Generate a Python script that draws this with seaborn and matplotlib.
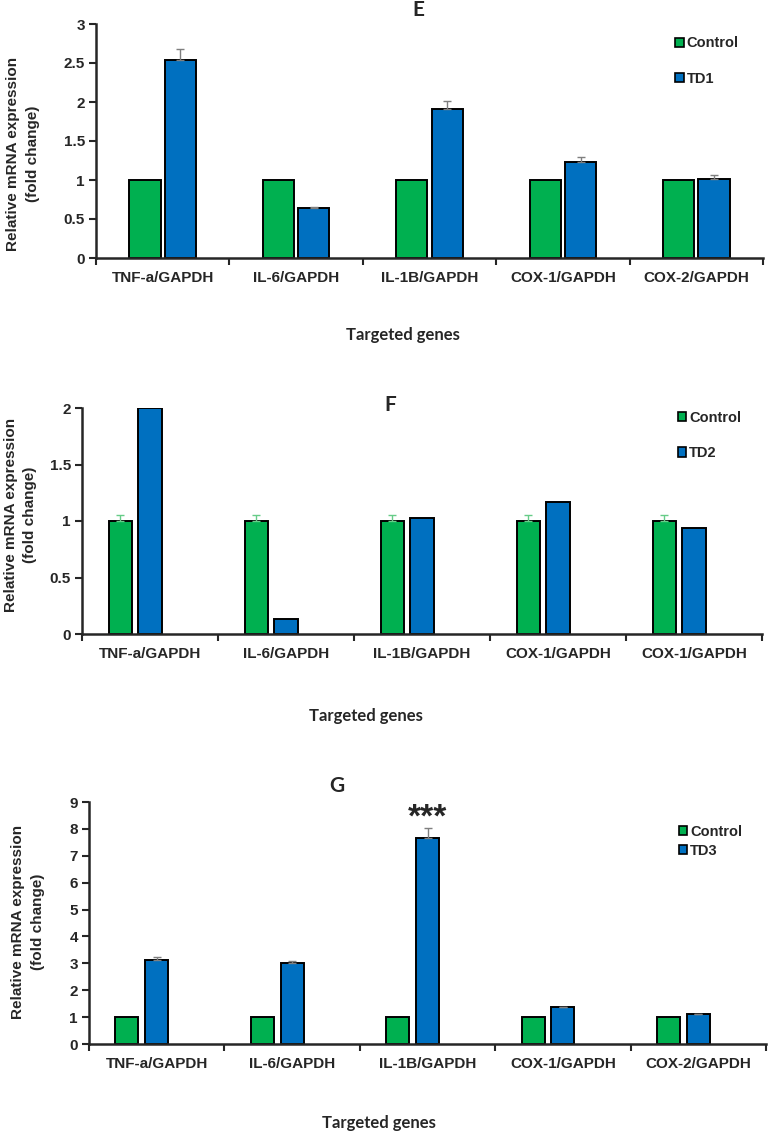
import numpy as np
import pandas as pd
import matplotlib
matplotlib.use("Agg")
import matplotlib.pyplot as plt
import seaborn as sns
from matplotlib.patches import Patch
from matplotlib.ticker import FuncFormatter

# =========================
# DATA
# =========================
genes_e = ["TNF-a/GAPDH", "IL-6/GAPDH", "IL-1B/GAPDH", "COX-1/GAPDH", "COX-2/GAPDH"]
control_e = [1, 1, 1, 1, 1]
td1 = [2.54, 0.64, 1.91, 1.23, 1.01]
td1_err = [0.14, 0.02, 0.10, 0.07, 0.05]

genes_f = ["TNF-a/GAPDH", "IL-6/GAPDH", "IL-1B/GAPDH", "COX-1/GAPDH", "COX-1/GAPDH"]
control_f = [1, 1, 1, 1, 1]
control_f_err = [0.05, 0.05, 0.05, 0.05, 0.05]
td2 = [2.0, 0.13, 1.03, 1.17, 0.94]

genes_g = ["TNF-a/GAPDH", "IL-6/GAPDH", "IL-1B/GAPDH", "COX-1/GAPDH", "COX-2/GAPDH"]
control_g = [1, 1, 1, 1, 1]
td3 = [3.12, 3.0, 7.67, 1.36, 1.11]
td3_err = [0.10, 0.10, 0.38, 0.03, 0.02]

GREEN = "#00B050"
BLUE = "#0070C0"

sns.set_style("ticks")
plt.rcParams['font.family'] = ['Liberation Sans', 'DejaVu Sans']
plt.rcParams['font.weight'] = 'bold'
CALIBRI_LIKE = ['Lato', 'DejaVu Sans']


def make_df(names, series):
    rows = []
    for name, vals in zip(names, series):
        for i, v in enumerate(vals):
            rows.append({"gene": i, "group": name, "value": v})
    return pd.DataFrame(rows)


def panel(ax, genes, names, series, errs, err_colors, n_slots, width, gap,
          ymax, ystep, title, title_xy, leg_xy, leg_spacing, ylab_xy, xlab_xy):
    df = make_df(names, series)
    # Excel-like layout: an empty third series slot keeps the pair off-centre
    hue_order = list(names) + ["_blank"] * (n_slots - len(names))
    palette = {names[0]: GREEN, names[1]: BLUE, "_blank": "white"}
    sns.barplot(data=df, x="gene", y="value", hue="group", hue_order=hue_order,
                palette=palette, saturation=1, errorbar=None, width=width, gap=gap,
                edgecolor="black", linewidth=1.4, legend=False, ax=ax)

    # error bars (upper half only)
    for cont, vals, err, ec in zip(ax.containers, series, errs, err_colors):
        if err is None:
            continue
        xs = [p.get_x() + p.get_width() / 2 for p in cont.patches]
        ax.errorbar(xs, vals, yerr=[np.zeros(len(err)), err], fmt="none",
                    ecolor=ec, elinewidth=1.0, capsize=3, capthick=1.0, zorder=3)

    ax.set_xlim(-0.5, len(genes) - 0.5)
    ax.set_ylim(0, ymax)
    ax.set_yticks(np.arange(0, ymax + 1e-9, ystep))
    ax.yaxis.set_major_formatter(FuncFormatter(lambda v, p: f"{v:g}"))
    ax.tick_params(axis="y", length=5, width=1.5, labelsize=11, pad=3)

    ax.set_xticks(np.arange(-0.5, len(genes), 1.0))
    ax.set_xticklabels([])
    ax.set_xticks(range(len(genes)), minor=True)
    ax.set_xticklabels(genes, minor=True, fontsize=11, fontweight="bold")
    ax.tick_params(axis="x", which="major", length=5, width=1.5)
    ax.tick_params(axis="x", which="minor", length=0, pad=9)

    for s in ["left", "bottom"]:
        ax.spines[s].set_linewidth(1.8)
    sns.despine(ax=ax)

    ax.set_ylabel("Relative mRNA expression\n(fold change)", fontsize=11,
                  fontweight="bold", linespacing=1.5)
    ax.yaxis.set_label_coords(*ylab_xy)
    ax.set_xlabel("Targeted genes", fontsize=12, fontweight="bold",
                  family=CALIBRI_LIKE)
    ax.xaxis.set_label_coords(*xlab_xy)

    ax.text(title_xy[0], title_xy[1], title, transform=ax.transAxes,
            fontsize=15, fontweight="bold", family=CALIBRI_LIKE,
            ha="center", va="center")

    handles = [Patch(facecolor=GREEN, edgecolor="black", linewidth=1.2),
               Patch(facecolor=BLUE, edgecolor="black", linewidth=1.2)]
    ax.legend(handles, names, loc="upper left", bbox_to_anchor=leg_xy,
              frameon=False, handlelength=0.6, handleheight=0.6,
              handletextpad=0.2, labelspacing=leg_spacing, borderpad=0,
              borderaxespad=0, prop={"weight": "bold", "size": 10.5})


fig = plt.figure(figsize=(7.68, 11.33), dpi=100)

ax_e = fig.add_axes([96 / 768, 1 - 258 / 1133, (763 - 96) / 768, 234 / 1133])
panel(ax_e, genes_e, ["Control", "TD1"], [control_e, td1], [None, td1_err],
      [None, "#7f7f7f"], 2, 0.53, 0.12, 3, 0.5, "E", (0.483, 1.06),
      (0.868, 0.947), 1.45, (-0.084, 0.444), (0.46, -0.295))

ax_f = fig.add_axes([82 / 768, 1 - 634 / 1133, (762 - 82) / 768, 226 / 1133])
panel(ax_f, genes_f, ["Control", "TD2"], [control_f, td2], [control_f_err, None],
      ["#66cc88", None], 3, 0.66, 0.23, 2, 0.5, "F", (0.453, 1.013),
      (0.876, 0.987), 1.45, (-0.066, 0.527), (0.418, -0.327))

ax_g = fig.add_axes([89 / 768, 1 - 1044 / 1133, (766 - 89) / 768, 242 / 1133])
panel(ax_g, genes_g, ["Control", "TD3"], [control_g, td3], [None, td3_err],
      [None, "#7f7f7f"], 3, 0.66, 0.23, 9, 1, "G", (0.366, 1.066),
      (0.871, 0.907), 0.35, (-0.065, 0.504), (0.428, -0.293))

# significance mark over IL-1B / TD3
bar = ax_g.containers[1].patches[2]
ax_g.annotate("***", xy=(bar.get_x() + bar.get_width() / 2, td3[2] + td3_err[2]),
              xytext=(0, 1), textcoords="offset points", ha="center",
              va="baseline", fontsize=24, fontweight="bold")

fig.savefig("out.png", dpi=100)
